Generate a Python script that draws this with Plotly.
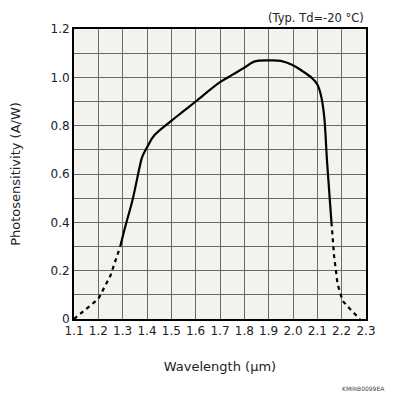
import plotly.graph_objects as go

# Data
wl_left = [1.10, 1.15, 1.20, 1.25, 1.29]
ps_left = [0.0, 0.04, 0.083, 0.18, 0.30]

wl_mid = [1.29, 1.31, 1.34, 1.37, 1.38, 1.40, 1.43, 1.50, 1.55, 1.60, 1.70, 1.75,
          1.80, 1.84, 1.90, 1.95, 2.00, 2.04, 2.08, 2.10, 2.115, 2.128, 2.14, 2.158]
ps_mid = [0.30, 0.38, 0.49, 0.63, 0.67, 0.71, 0.76, 0.82, 0.86, 0.90, 0.98, 1.01,
          1.04, 1.065, 1.07, 1.068, 1.05, 1.025, 0.995, 0.97, 0.925, 0.84, 0.65, 0.40]

wl_right = [2.158, 2.169, 2.183, 2.204, 2.24, 2.275]
ps_right = [0.40, 0.26, 0.145, 0.075, 0.035, 0.0]

x_ticks = [1.1, 1.2, 1.3, 1.4, 1.5, 1.6, 1.7, 1.8, 1.9, 2.0, 2.1, 2.2, 2.3]
x_tick_labels = ["1.1", "1.2", "1.3", "1.4", "1.5", "1.6", "1.7", "1.8", "1.9", "2.0", "2.1", "2.2", "2.3"]
y_ticks = [0, 0.2, 0.4, 0.6, 0.8, 1.0, 1.2]
y_tick_labels = ["0", "0.2", "0.4", "0.6", "0.8", "1.0", "1.2"]

FONT = "DejaVu Sans"

fig = go.Figure()
fig.add_trace(go.Scatter(x=wl_left, y=ps_left, mode="lines",
                         line=dict(color="black", width=2.2, dash="4px,4px"), hoverinfo="skip"))
fig.add_trace(go.Scatter(x=wl_mid, y=ps_mid, mode="lines", line_shape="spline",
                         line=dict(color="black", width=2.2), hoverinfo="skip"))
fig.add_trace(go.Scatter(x=wl_right, y=ps_right, mode="lines",
                         line=dict(color="black", width=2.2, dash="4px,4px"), hoverinfo="skip"))

# page body has an 8px margin, so offsets are compensated here
fig.update_layout(
    width=396, height=396,
    margin=dict(l=66, r=38, t=21, b=85, autoexpand=False),
    paper_bgcolor="white",
    plot_bgcolor="#f4f2ec",
    showlegend=False,
    font=dict(family=FONT, size=12, color="#222"),
    xaxis=dict(range=[1.1, 2.3], tickmode="array", tickvals=x_ticks, ticktext=x_tick_labels,
               showgrid=True, gridcolor="#6a6a6a", gridwidth=1, automargin=False,
               showline=True, linecolor="black", linewidth=2, mirror=True,
               ticks="", zeroline=False,
               title=dict(text="Wavelength (μm)", font=dict(size=13), standoff=24),
               tickfont=dict(size=12)),
    yaxis=dict(range=[0, 1.2], tickmode="array", tickvals=y_ticks, ticktext=y_tick_labels,
               showgrid=True, gridcolor="#6a6a6a", gridwidth=1, automargin=False,
               showline=True, linecolor="black", linewidth=2, mirror=True,
               ticks="", zeroline=False,
               title=dict(text="Photosensitivity (A/W)", font=dict(size=13), standoff=27),
               tickfont=dict(size=12)),
)
fig.update_yaxes(minor=dict(tickvals=[0.1, 0.3, 0.5, 0.7, 0.9, 1.1], showgrid=True,
                            gridcolor="#6a6a6a", gridwidth=1))

fig.add_annotation(text="(Typ. Td=-20 °C)", xref="paper", yref="paper", x=1.0, y=1.0,
                   xanchor="right", yanchor="bottom", yshift=2, showarrow=False,
                   font=dict(size=11.5, family=FONT, color="#222"))
fig.add_annotation(text="KMIRB0099EA", xref="paper", yref="paper", x=1.072, y=-0.238,
                   xanchor="right", yanchor="middle", showarrow=False,
                   font=dict(size=6, family=FONT, color="#444"))

fig.write_html("out.html")
